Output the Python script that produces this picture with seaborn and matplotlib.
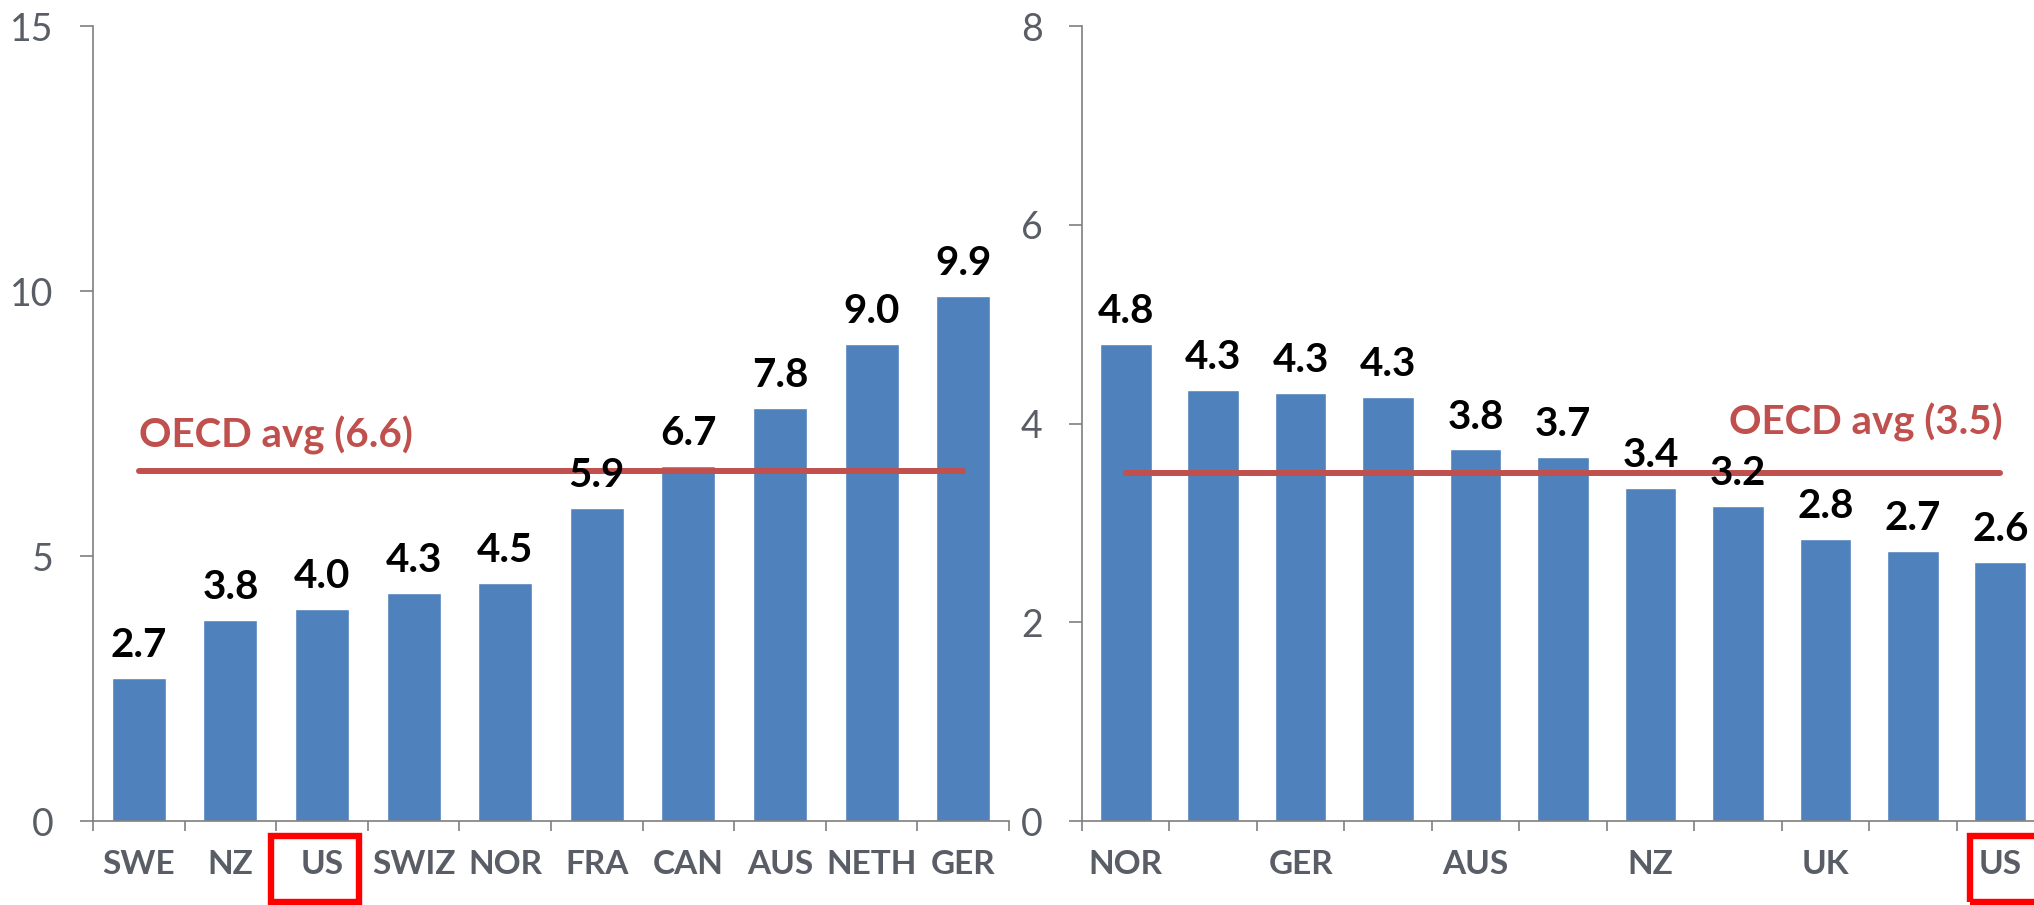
import numpy as np
import matplotlib.pyplot as plt
import seaborn as sns
from matplotlib.patches import Rectangle
from matplotlib.transforms import blended_transform_factory

# left panel
left_countries = ["SWE", "NZ", "US", "SWIZ", "NOR", "FRA", "CAN", "AUS", "NETH", "GER"]
left_values = [2.7, 3.8, 4.0, 4.3, 4.5, 5.9, 6.7, 7.8, 9.0, 9.9]
left_labels = ["2.7", "3.8", "4.0", "4.3", "4.5", "5.9", "6.7", "7.8", "9.0", "9.9"]
left_avg = 6.6

# right panel (only every other country is labelled in the original)
right_countries = ["NOR", "", "GER", "", "AUS", "", "NZ", "", "UK", "", "US"]
right_values = [4.80, 4.34, 4.31, 4.27, 3.74, 3.66, 3.35, 3.17, 2.84, 2.72, 2.61]
right_labels = ["4.8", "4.3", "4.3", "4.3", "3.8", "3.7", "3.4", "3.2", "2.8", "2.7", "2.6"]
right_avg = 3.5

BLUE = "#4f81bd"
RED = "#c0504d"
GRAY = "#7f7f7f"
TICK_GRAY = "#595d66"

sns.set_style("white")
plt.rcParams['font.family'] = ['Lato', 'DejaVu Sans']

fig = plt.figure(figsize=(20.34, 9.05), dpi=100)
W, H = 2034, 905
ax1 = fig.add_axes([93 / W, 84 / H, 916 / W, 795 / H])
ax2 = fig.add_axes([1082 / W, 84 / H, 962 / W, 795 / H])


def draw_panel(ax, names, values, labels, avg, ymax, yticks, avg_offset, avg_left, us_x0):
    n = len(values)
    pos = list(range(n))
    sns.barplot(x=pos, y=values, color=BLUE, saturation=1, width=0.59, ax=ax)
    ax.set_xlim(-0.5, n - 0.5)
    ax.set_ylim(0, ymax)
    ax.set_xlabel("")
    ax.set_ylabel("")

    for i, (v, lab) in enumerate(zip(values, labels)):
        ax.annotate(lab, (i, v), xytext=(0, 15), textcoords="offset points",
                    ha="center", va="baseline", fontsize=29, fontweight="bold",
                    color="black")

    ax.plot([0, n - 1], [avg, avg], color=RED, lw=4.3, solid_capstyle="round")
    if avg_left:
        ax.annotate(f"OECD avg ({avg})", (0, avg), xytext=(0, avg_offset),
                    textcoords="offset points", ha="left", va="baseline",
                    fontsize=29, fontweight="bold", color=RED)
    else:
        ax.annotate(f"OECD avg ({avg})", (n - 1, avg), xytext=(2, avg_offset),
                    textcoords="offset points", ha="right", va="baseline",
                    fontsize=29, fontweight="bold", color=RED)

    ax.set_xticks(pos)
    ax.set_xticklabels(names)
    ax.set_xticks(np.arange(-0.5, n, 1), minor=True)
    ax.tick_params(axis="x", which="major", length=0, pad=21, labelsize=24,
                   labelcolor=TICK_GRAY)
    ax.tick_params(axis="x", which="minor", length=7.5, width=1.2, color=GRAY,
                   direction="out", bottom=True)
    for t in ax.get_xticklabels():
        t.set_fontweight("bold")

    ax.set_yticks(yticks)
    ax.set_yticklabels([str(t) for t in yticks])
    ax.tick_params(axis="y", length=9.4, width=1.2, color=GRAY, pad=19,
                   labelsize=27, labelcolor=TICK_GRAY, left=True, direction="out")

    ax.spines[["top", "right"]].set_visible(False)
    for s in ("left", "bottom"):
        ax.spines[s].set_color(GRAY)
        ax.spines[s].set_linewidth(1.2)

    # red box round the US label
    trans = blended_transform_factory(ax.transData, ax.transAxes)
    ax.add_patch(Rectangle((us_x0, -0.102), 0.96, 0.083, transform=trans,
                           fill=False, edgecolor="#ff0000", lw=4.6,
                           joinstyle="miter", clip_on=False))


draw_panel(ax1, left_countries, left_values, left_labels, left_avg, 15,
           [0, 5, 10, 15], 17, True, 1.44)
draw_panel(ax2, right_countries, right_values, right_labels, right_avg, 8,
           [0, 2, 4, 6, 8], 28, False, 9.65)

fig.savefig("out.png", dpi=100)
